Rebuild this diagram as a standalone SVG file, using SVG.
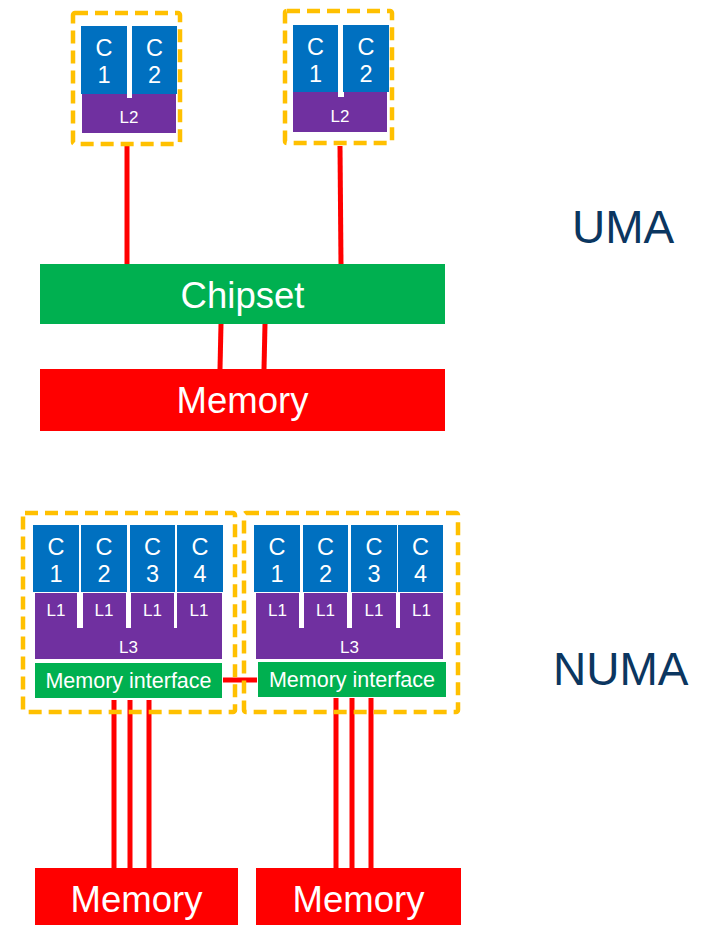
<svg xmlns="http://www.w3.org/2000/svg" width="715" height="925" viewBox="0 0 715 925">
<style>
.dash{fill:none;stroke:#FFC000;stroke-width:4.5;stroke-dasharray:13 7}
.core{fill:#0070C0}
.cache{fill:#7030A0}
.green{fill:#00B050}
.red{fill:#FF0000}
.gap{fill:#FFFFFF}
.wire{stroke:#FF0000;stroke-width:5;fill:none}
text{font-family:"Liberation Sans",Arial,sans-serif;fill:#FFFFFF;text-anchor:middle}
.ct{font-size:23.5px}
.cs{font-size:17px}
.big{font-size:36.5px}
.mi{font-size:21.5px}
.lbl{font-size:46px;fill:#0B3660;text-anchor:start}
</style>
<rect width="715" height="925" fill="#FFFFFF"/>

<g id="connectors">
<line class="wire" x1="127" y1="146" x2="127" y2="264"/>
<line class="wire" x1="340" y1="146" x2="341" y2="264"/>
<line class="wire" x1="221" y1="324" x2="220" y2="369"/>
<line class="wire" x1="265" y1="324" x2="264" y2="369"/>
<line class="wire" x1="223" y1="680" x2="257" y2="680"/>
<line class="wire" x1="114" y1="700" x2="114" y2="869"/>
<line class="wire" x1="130" y1="700" x2="130" y2="869"/>
<line class="wire" x1="149" y1="700" x2="149" y2="869"/>
<line class="wire" x1="336" y1="698" x2="336" y2="869"/>
<line class="wire" x1="352" y1="698" x2="352" y2="869"/>
<line class="wire" x1="371" y1="698" x2="371" y2="869"/>
</g>

<g id="uma-cpu1">
<rect class="dash" x="73" y="13" width="107" height="131" rx="2"/>
<rect class="core" x="81" y="26" width="46" height="68"/>
<rect class="core" x="132" y="26" width="45" height="68"/>
<rect class="cache" x="82" y="94" width="94" height="39"/>
<rect class="gap" x="127" y="93" width="5" height="5"/>
<text class="ct" x="104" y="56">C</text><text class="ct" x="104" y="83">1</text>
<text class="ct" x="154.5" y="56">C</text><text class="ct" x="154.5" y="83">2</text>
<text class="cs" x="129" y="123">L2</text>
</g>

<g id="uma-cpu2">
<rect class="dash" x="285" y="11" width="107" height="132" rx="2"/>
<rect class="core" x="293" y="25" width="45" height="67"/>
<rect class="core" x="343" y="25" width="46" height="67"/>
<rect class="cache" x="293" y="92" width="94" height="40"/>
<rect class="gap" x="338" y="92" width="6" height="5"/>
<text class="ct" x="315.5" y="55">C</text><text class="ct" x="315.5" y="82">1</text>
<text class="ct" x="366" y="55">C</text><text class="ct" x="366" y="82">2</text>
<text class="cs" x="340" y="122">L2</text>
</g>

<g id="chipset">
<rect class="green" x="40" y="264" width="405" height="60"/>
<text class="big" x="242.5" y="308">Chipset</text>
</g>

<g id="uma-memory">
<rect class="red" x="40" y="369" width="405" height="62"/>
<text class="big" x="242.5" y="413">Memory</text>
</g>

<g id="label-uma">
<text class="lbl" x="572" y="243">UMA</text>
</g>

<g id="numa-cpu1">
<rect class="dash" x="23" y="513" width="212" height="199" rx="2"/>
<rect class="core" x="33" y="525" width="46" height="67"/>
<rect class="core" x="81" y="525" width="46" height="67"/>
<rect class="core" x="130" y="525" width="45" height="67"/>
<rect class="core" x="177" y="525" width="46" height="67"/>
<rect class="cache" x="35" y="593" width="187" height="66"/>
<rect class="gap" x="77" y="593" width="6" height="35"/>
<rect class="gap" x="126" y="593" width="5" height="35"/>
<rect class="gap" x="174" y="593" width="3" height="35"/>
<text class="ct" x="56" y="555">C</text><text class="ct" x="56" y="582">1</text>
<text class="ct" x="104" y="555">C</text><text class="ct" x="104" y="582">2</text>
<text class="ct" x="152.5" y="555">C</text><text class="ct" x="152.5" y="582">3</text>
<text class="ct" x="200" y="555">C</text><text class="ct" x="200" y="582">4</text>
<text class="cs" x="56" y="616">L1</text>
<text class="cs" x="104" y="616">L1</text>
<text class="cs" x="152.5" y="616">L1</text>
<text class="cs" x="199" y="616">L1</text>
<text class="cs" x="128.5" y="653">L3</text>
<rect class="green" x="35" y="663" width="187" height="35"/>
<text class="mi" x="128.5" y="688">Memory interface</text>
</g>

<g id="numa-cpu2">
<rect class="dash" x="244" y="513" width="214" height="199" rx="2"/>
<rect class="core" x="254" y="525" width="46" height="67"/>
<rect class="core" x="303" y="525" width="45" height="67"/>
<rect class="core" x="351" y="525" width="46" height="67"/>
<rect class="core" x="398" y="525" width="45" height="67"/>
<rect class="cache" x="256" y="593" width="187" height="66"/>
<rect class="gap" x="299" y="593" width="5" height="35"/>
<rect class="gap" x="347" y="593" width="5" height="35"/>
<rect class="gap" x="396" y="593" width="4" height="35"/>
<text class="ct" x="277" y="555">C</text><text class="ct" x="277" y="582">1</text>
<text class="ct" x="325.5" y="555">C</text><text class="ct" x="325.5" y="582">2</text>
<text class="ct" x="374" y="555">C</text><text class="ct" x="374" y="582">3</text>
<text class="ct" x="420.5" y="555">C</text><text class="ct" x="420.5" y="582">4</text>
<text class="cs" x="277.5" y="616">L1</text>
<text class="cs" x="325.5" y="616">L1</text>
<text class="cs" x="374" y="616">L1</text>
<text class="cs" x="421.5" y="616">L1</text>
<text class="cs" x="349.5" y="653">L3</text>
<rect class="green" x="258" y="662" width="188" height="35"/>
<text class="mi" x="352" y="687">Memory interface</text>
</g>

<g id="numa-memory1">
<rect class="red" x="35" y="868" width="203" height="57"/>
<text class="big" x="136.5" y="912">Memory</text>
</g>

<g id="numa-memory2">
<rect class="red" x="256" y="868" width="205" height="57"/>
<text class="big" x="358.5" y="912">Memory</text>
</g>

<g id="label-numa">
<text class="lbl" x="553" y="685">NUMA</text>
</g>
</svg>
